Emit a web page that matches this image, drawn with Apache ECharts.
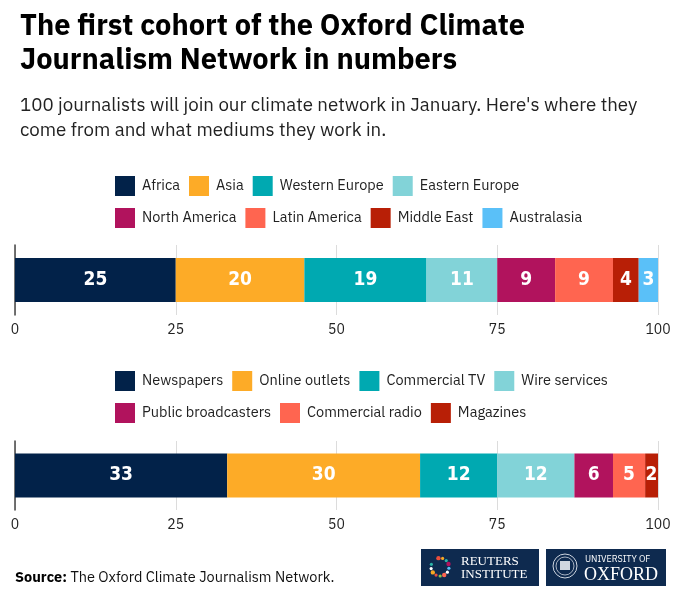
<!DOCTYPE html>
<html>
<head>
<meta charset="utf-8">
<script src="https://cdn.jsdelivr.net/npm/echarts@6/dist/echarts.min.js"></script>
<style>
html,body{margin:0;padding:0;background:#fff;}
#chart{width:680px;height:599px;}
</style>
</head>
<body>
<div id="chart"></div>
<script>
// ---- data ----
const regionNames = ['Africa', 'Asia', 'Western Europe', 'Eastern Europe', 'North America', 'Latin America', 'Middle East', 'Australasia'];
const regionValues = [25, 20, 19, 11, 9, 9, 4, 3];
const mediumNames = ['Newspapers', 'Online outlets', 'Commercial TV', 'Wire services', 'Public broadcasters', 'Commercial radio', 'Magazines'];
const mediumValues = [33, 30, 12, 12, 6, 5, 2];
const axisTicks = [0, 25, 50, 75, 100];
const palette = ['#022249', '#fdab27', '#00a9b1', '#82d3d8', '#b1135d', '#ff6550', '#b81f06', '#5ac0f8'];

const SANS = '"IBM Plex Sans", Roboto, "Noto Sans", sans-serif';
const COND = '"Liberation Sans Narrow", "DejaVu Sans Condensed", Roboto, sans-serif';
const SERIF = '"Liberation Serif", "DejaVu Serif", serif';

const chart = echarts.init(document.getElementById('chart'), null, {renderer: 'canvas'});

function makeSeries(names, values, idx) {
  return names.map((n, i) => ({
    name: n,
    type: 'bar',
    stack: 's' + idx,
    xAxisIndex: idx,
    yAxisIndex: idx,
    barWidth: 44,
    data: [values[i]],
    itemStyle: {color: palette[i]},
    label: {
      show: true,
      position: 'inside',
      color: '#fff',
      fontFamily: COND,
      fontWeight: 'bold',
      fontSize: 19,
      formatter: '{c}'
    },
    emphasis: {disabled: true},
    animation: false
  }));
}

function xAxis(gridIndex) {
  return {
    type: 'value', gridIndex, min: axisTicks[0], max: axisTicks[axisTicks.length - 1], interval: 25,
    axisLine: {show: false}, axisTick: {show: false},
    splitLine: {show: true, lineStyle: {color: '#dcdcdc', width: 1}},
    axisLabel: {color: '#222', fontFamily: SANS, fontSize: 14, margin: 8}
  };
}
function yAxis(gridIndex) {
  return {
    type: 'category', gridIndex, data: [''],
    axisLine: {show: true, lineStyle: {color: '#444', width: 1.5}},
    axisTick: {show: false}, axisLabel: {show: false}
  };
}

const legendCommon = {
  icon: 'rect', itemWidth: 20, itemHeight: 20, itemGap: 9,
  textStyle: {color: '#222', fontFamily: SANS, fontSize: 14.5, padding: [0, 0, 0, 2]},
  selectedMode: false, orient: 'horizontal', left: 110
};

const dots = [];
const dotColors = ['#e94e3c', '#f7a823', '#2ab3a6', '#b1135d', '#5ac0f8', '#ffffff', '#ff6550', '#8bc34a', '#e94e3c', '#f7a823', '#ffffff', '#2ab3a6'];
for (let k = 0; k < 12; k++) {
  const a = (-100 + k * 27) * Math.PI / 180;
  dots.push({type: 'circle', shape: {cx: 440 + 9 * Math.cos(a), cy: 567 + 9 * Math.sin(a), r: k % 3 === 0 ? 2.2 : 1.6}, style: {fill: dotColors[k]}});
}

const option = {
  backgroundColor: '#fff',
  animation: false,
  grid: [
    {left: 15, width: 643, top: 245, height: 70, containLabel: false},
    {left: 15, width: 643, top: 441, height: 69, containLabel: false}
  ],
  xAxis: [xAxis(0), xAxis(1)],
  yAxis: [yAxis(0), yAxis(1)],
  legend: [
    Object.assign({}, legendCommon, {top: 171, data: regionNames.slice(0, 4)}),
    Object.assign({}, legendCommon, {top: 203, data: regionNames.slice(4)}),
    Object.assign({}, legendCommon, {top: 366, data: mediumNames.slice(0, 4)}),
    Object.assign({}, legendCommon, {top: 398, data: mediumNames.slice(4)})
  ],
  series: makeSeries(regionNames, regionValues, 0).concat(makeSeries(mediumNames, mediumValues, 1)),
  graphic: [
    {type: 'text', left: 20, top: 10, style: {text: 'The first cohort of the Oxford Climate\nJournalism Network in numbers', fill: '#000', font: 'bold 29px ' + SANS, lineHeight: 34}},
    {type: 'text', left: 20, top: 93, style: {text: "100 journalists will join our climate network in January. Here's where they\ncome from and what mediums they work in.", fill: '#222', font: '18.7px ' + SANS, lineHeight: 25}},
    {type: 'text', left: 15, top: 570, style: {text: '{b|Source:} The Oxford Climate Journalism Network.', fill: '#111', font: '14.5px ' + SANS, rich: {b: {fontWeight: 'bold', fontFamily: SANS, fontSize: 14.5, fill: '#000'}}}},
    // Reuters Institute logo
    {type: 'rect', shape: {x: 421, y: 549, width: 118, height: 37}, style: {fill: '#0e2a4f'}},
    {type: 'group', children: dots},
    {type: 'text', left: 461, top: 555, style: {text: 'REUTERS\nINSTITUTE', fill: '#fff', font: '13px ' + SERIF, lineHeight: 13}},
    // Oxford logo
    {type: 'rect', shape: {x: 546, y: 549, width: 120, height: 37}, style: {fill: '#0e2a4f'}},
    {type: 'circle', shape: {cx: 565, cy: 566, r: 12}, style: {fill: 'none', stroke: '#cfd6e0', lineWidth: 1}},
    {type: 'circle', shape: {cx: 565, cy: 566, r: 9}, style: {fill: 'none', stroke: '#cfd6e0', lineWidth: 0.8}},
    {type: 'rect', shape: {x: 560, y: 561, width: 10, height: 9}, style: {fill: '#cfd6e0'}},
    {type: 'text', left: 585, top: 555, style: {text: 'UNIVERSITY OF', fill: '#fff', font: '9px ' + SANS}},
    {type: 'text', left: 584, top: 566, style: {text: 'OXFORD', fill: '#fff', font: '18px ' + SERIF}}
  ]
};
chart.setOption(option);
</script>
</body>
</html>
